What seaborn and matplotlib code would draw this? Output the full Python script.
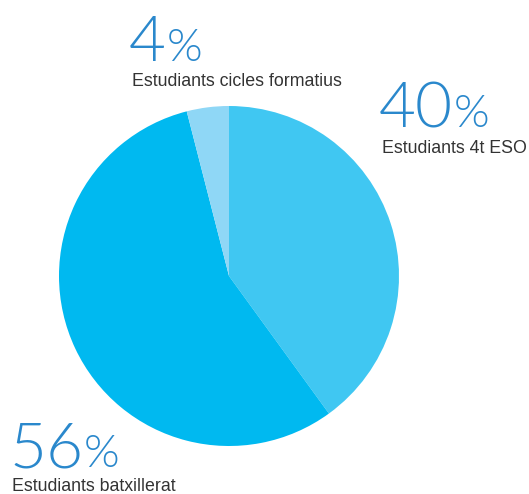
import matplotlib
matplotlib.use("Agg")
import matplotlib.pyplot as plt
import seaborn as sns

# slice values, in drawing order (clockwise from 12 o'clock)
labels = ["Estudiants 4t ESO", "Estudiants batxillerat", "Estudiants cicles formatius"]
values = [40, 56, 4]
colors = ["#40c7f2", "#00b9f0", "#8fd7f6"]

W, H = 529, 494


def main():
    sns.set_theme(style="white")
    plt.rcParams["font.family"] = ["Liberation Sans", "DejaVu Sans"]

    fig = plt.figure(figsize=(W / 100, H / 100), dpi=100)
    fig.patch.set_facecolor("white")

    # pie centred at (229, 276) px with radius 170 px
    cx, cy, r = 229, 276, 170
    ax = fig.add_axes([(cx - r) / W, (H - cy - r) / H, 2 * r / W, 2 * r / H])
    ax.pie(values, colors=colors, startangle=90, counterclock=False,
           wedgeprops=dict(linewidth=0))
    ax.set_xlim(-1, 1)
    ax.set_ylim(-1, 1)
    ax.axis("off")

    num_color = "#2a88cc"
    txt_color = "#333333"
    num_font = dict(family=["Lato", "DejaVu Sans"], weight=300)

    # (left x, number baseline y, label baseline y) in pixels from top-left
    spots = {
        "Estudiants cicles formatius": (129, 61, 86),
        "Estudiants 4t ESO": (379, 127, 153),
        "Estudiants batxillerat": (9, 467, 491),
    }

    fig.canvas.draw()
    renderer = fig.canvas.get_renderer()
    for lab, val in zip(labels, values):
        x, yn, yl = spots[lab]
        t = fig.text(x / W, 1 - yn / H, str(val), fontsize=46, color=num_color,
                     va="baseline", ha="left", **num_font)
        bb = t.get_window_extent(renderer)
        fig.text((bb.x1 + 1) / W, 1 - yn / H, "%", fontsize=33, color=num_color,
                 va="baseline", ha="left", **num_font)
        fig.text((x + 3) / W, 1 - yl / H, lab, fontsize=12.8, color=txt_color,
                 va="baseline", ha="left")

    fig.savefig("out.png", dpi=100, facecolor="white")


if __name__ == "__main__":
    main()
